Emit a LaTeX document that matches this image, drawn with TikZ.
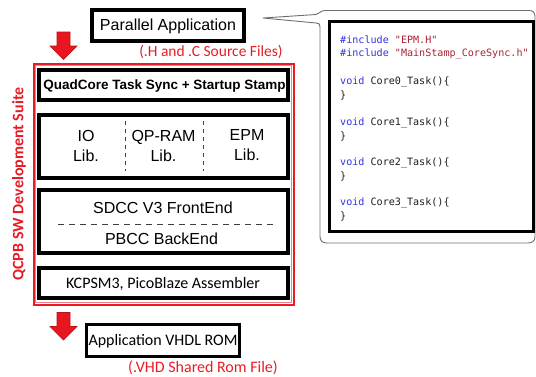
\documentclass[tikz,border=0pt]{standalone}
\usepackage{fontspec}
\setmainfont{Liberation Sans}
\newfontfamily\calib{Carlito}
\newfontfamily\codefont{DejaVu Sans Mono}
\definecolor{lbl}{RGB}{232,28,36}
\definecolor{arrowred}{RGB}{232,22,30}
\definecolor{kw}{RGB}{50,50,225}
\definecolor{strc}{RGB}{170,35,50}
\definecolor{codetxt}{RGB}{30,30,30}
\definecolor{outline}{RGB}{110,110,110}
\tikzset{
  blk/.style={draw=black, line width=4.2pt, inner sep=0pt, minimum width=249pt},
  thinblk/.style={draw=black, line width=3.2pt, inner sep=0pt},
  txt/.style={inner sep=0pt, font=\fontsize{16}{20}\selectfont, align=center},
  ctxt/.style={inner sep=0pt, font=\calib\fontsize{16}{20}\selectfont, align=center},
  redlbl/.style={inner sep=0pt, text=lbl, font=\calib\fontsize{15.5}{19}\selectfont},
  code/.style={inner sep=0pt, anchor=base west, text=codetxt, font=\codefont\fontsize{10.1}{12}\selectfont},
  sep/.style={draw=black!75, line width=0.9pt},
  downarrow/.pic={
    \fill[arrowred, draw=arrowred!80!black, line width=0.6pt]
      (-6.5,0) -- (6.5,0) -- (6.5,14) -- (13.5,14) -- (0,27.5)
      -- (-13.5,14) -- (-6.5,14) -- cycle;
  }
}
\begin{document}
\begin{tikzpicture}[x=1pt,y=-1pt]
\useasboundingbox (0,0) rectangle (536,376);

% speech-bubble outline around the code listing
\draw[outline, line width=0.9pt, line join=round]
  (263,18) -- (316,14.5) .. controls (320,14) and (320,10.5) .. (325,10.5)
  -- (529,10.5) .. controls (533,10.5) and (535,12.5) .. (535,16.5)
  -- (535,237) .. controls (535,241) and (532,243) .. (528,243)
  -- (327,243) .. controls (322,243) and (320,240.5) .. (320,236)
  -- (320,27) .. controls (320,24) and (319,23) .. (316,23) -- cycle;

% code listing
\node[thinblk, draw=black, fill=white, line width=3pt, minimum width=204pt, minimum height=210pt] (codebox) at (431.5,126.5) {};
\node[code] (c1) at (340,43.5) {\textcolor{kw}{\#include} \textcolor{strc}{"EPM.H"}};
\node[code] (c2) at (340,56.5) {\textcolor{kw}{\#include} \textcolor{strc}{"MainStamp\_CoreSync.h"}};
\node[code] (c3) at (340,84.5) {\textcolor{kw}{void} Core0\_Task()\{};
\node[code] (c4) at (340,98.5) {\}};
\node[code] (c5) at (340,125.5) {\textcolor{kw}{void} Core1\_Task()\{};
\node[code] (c6) at (340,139.5) {\}};
\node[code] (c7) at (340,165.5) {\textcolor{kw}{void} Core2\_Task()\{};
\node[code] (c8) at (340,179.5) {\}};
\node[code] (c9) at (340,205.5) {\textcolor{kw}{void} Core3\_Task()\{};
\node[code] (c10) at (340,219.5) {\}};

% source application
\node[blk, line width=4pt, minimum width=152pt, minimum height=31pt] (app) at (168,25.5) {};
\node[txt] (apptxt) at (168,26) {Parallel Application};
\node[redlbl] (srclbl) at (211,52) {(.H and .C Source Files)};

% development suite frame
\draw[lbl, line width=2pt] (33.5,63.5) rectangle (293.5,305);
\draw[lbl!55, line width=0.8pt] (35.8,65.8) rectangle (291.2,302.7);
\node[inner sep=0pt, text=lbl, rotate=90, font=\calib\bfseries\fontsize{16}{19}\selectfont] (suite) at (19,184) {QCPB SW Development Suite};

% layers
\node[blk, minimum height=30pt] (qc) at (163.5,85) {};
\node[inner sep=0pt, font=\bfseries\fontsize{13.5}{16}\selectfont] (qctxt) at (164.5,86) {QuadCore Task Sync + Startup Stamp};

\node[blk, minimum height=63pt] (lib) at (163.5,146.5) {};
\node[txt] (io) at (86,145.5) {IO\\Lib.};
\node[txt] (qp) at (163.5,145.5) {QP-RAM\\Lib.};
\node[txt] (epm) at (247,145.5) {EPM\\Lib.};
\coordinate (d1a) at (125,121); \coordinate (d1b) at (125,171);
\coordinate (d2a) at (203,121); \coordinate (d2b) at (203,171);
\draw[sep, dash pattern=on 4pt off 4pt] (d1a) -- (d1b);
\draw[sep, dash pattern=on 4pt off 4pt] (d2a) -- (d2b);

\node[blk, minimum height=63pt] (sdcc) at (163.5,221.5) {};
\node[txt] (fe) at (163,207.5) {SDCC V3 FrontEnd};
\node[txt] (be) at (161.5,238.5) {PBCC BackEnd};
\coordinate (h1) at (58,224); \coordinate (h2) at (273,224);
\draw[sep, dash pattern=on 6pt off 5pt] (h1) -- (h2);

\node[blk, minimum height=30pt] (kc) at (163.5,283) {};
\node[ctxt] (kctxt) at (163,283.5) {KCPSM3, PicoBlaze Assembler};

% output ROM
\node[thinblk, line width=3.3pt, minimum width=152.5pt, minimum height=31.5pt] (rom) at (163,340.5) {};
\node[ctxt] (romtxt) at (163,341) {Application VHDL ROM};
\node[redlbl, font=\calib\fontsize{16}{19}\selectfont] (romlbl) at (203,367.5) {(.VHD Shared Rom File)};

% flow arrows
\pic at (63.5,32) {downarrow};
\pic at (63.5,312.5) {downarrow};
\end{tikzpicture}
\end{document}
